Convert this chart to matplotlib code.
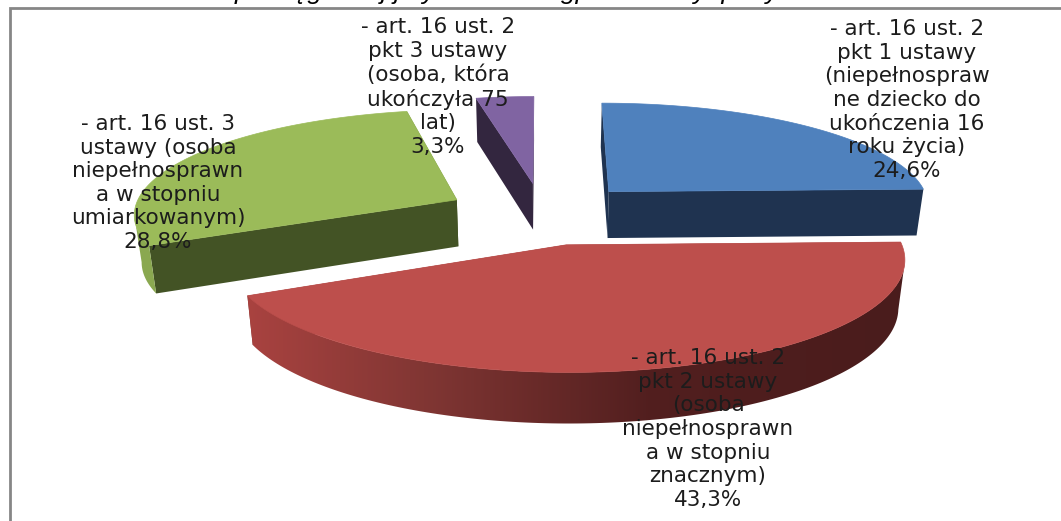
import numpy as np
import matplotlib
matplotlib.use("Agg")
import matplotlib.pyplot as plt
from matplotlib.patches import Polygon

labels = [
    "- art. 16 ust. 2\npkt 1 ustawy\n(niepełnospraw\nne dziecko do\nukończenia 16\nroku życia)",
    "- art. 16 ust. 2\npkt 2 ustawy\n(osoba\nniepełnosprawn\na w stopniu\nznacznym)",
    "- art. 16 ust. 3\nustawy (osoba\nniepełnosprawn\na w stopniu\numiarkowanym)",
    "- art. 16 ust. 2\npkt 3 ustawy\n(osoba, która\nukończyła 75\nlat)",
]
values = [24.6, 43.3, 28.8, 3.3]
top_colors = ["#4f81bd", "#bd4f4c", "#9bbb59", "#8064a2"]
side_colors = ["#1f3350", "#7f3533", "#435325", "#33263f"]
arc_colors = ["#1f3350", None, "#8aa850", "#33263f"]
label_pos = [(907, 100), (708, 429), (158, 183), (438, 87)]
draw_order = [3, 2, 0, 1]

# only the descenders of this title survive the crop in the reference
title_text = "p      ęg        j j   y                 gp              y  p    y"

# pie projection, fitted by eye
cx, cy = 542.6, 213.4
rx, ry = 324, 104
persp = 0.12
explode = 0.3
depth = 47


def project(x, y, z=0):
    w = 1 / (1 - persp * y)
    sx = cx + rx * x * w * (1 - 0.018 * z)
    sy = cy + ry * y * w + depth * np.sqrt(w) * z
    return sx, sy


def red_gradient(ax, verts):
    # left to right shading of the red side
    x = np.linspace(240, 910, 300)
    rgb = np.stack([np.interp(x, [250, 430, 650, 900], [0.66, 0.50, 0.32, 0.29]),
                    np.interp(x, [250, 430, 650, 900], [0.26, 0.21, 0.12, 0.11]),
                    np.interp(x, [250, 430, 650, 900], [0.25, 0.20, 0.12, 0.11])], axis=-1)
    im = ax.imshow(rgb[np.newaxis, :, :], extent=(240, 910, 430, 240), aspect="auto", zorder=1)
    im.set_clip_path(Polygon(verts, closed=True, transform=ax.transData))


def main():
    fig = plt.figure(figsize=(10.61, 5.21), dpi=100)
    ax = fig.add_axes([0, 0, 1, 1])
    ax.axis("off")

    ax.plot([10, 10, 1061], [521, 7.5, 7.5], color="#868686", lw=2, solid_joinstyle="miter")
    ax.text(235, -0.5, title_text, fontsize=19, style="italic", family="Liberation Sans",
            va="baseline", ha="left", color="black")

    edges = np.concatenate([[0], np.cumsum(values)]) / sum(values) * 2 * np.pi

    for i in draw_order:
        a0, a1 = edges[i], edges[i + 1]
        mid = (a0 + a1) / 2
        ox, oy = explode * np.sin(mid), -explode * np.cos(mid)
        t = np.linspace(a0, a1, 160)
        xs = ox + np.sin(t)
        ys = oy - np.cos(t)

        tx, ty = project(xs, ys)
        bx, by = project(xs, ys, 1)

        # cut faces
        ax_t, ay_t = project(ox, oy)
        ax_b, ay_b = project(ox, oy, 1)
        for k in (0, -1):
            ax.fill([ax_t, tx[k], bx[k], ax_b], [ay_t, ty[k], by[k], ay_b], color=side_colors[i], lw=0, zorder=1)

        # outer side, only the part of the arc that faces the viewer
        front = np.gradient(tx) < 0
        if front.sum() > 1:
            side_x = np.r_[tx[front], bx[front][::-1]]
            side_y = np.r_[ty[front], by[front][::-1]]
            if arc_colors[i] is None:
                red_gradient(ax, np.column_stack([side_x, side_y]))
            else:
                ax.fill(side_x, side_y, color=arc_colors[i], lw=0, zorder=1)

        # top face
        ax.fill(np.r_[ax_t, tx], np.r_[ay_t, ty], color=top_colors[i], lw=0.5, zorder=2)

    for i in range(len(values)):
        txt = labels[i] + "\n" + f"{values[i]:.1f}".replace(".", ",") + "%"
        ax.text(label_pos[i][0], label_pos[i][1], txt, ha="center", va="center", fontsize=15.5,
                family="DejaVu Sans", color="#1c1c1c", linespacing=1.22, zorder=3)

    ax.set_xlim(0, 1061)
    ax.set_ylim(521, 0)
    fig.savefig("out.png", dpi=100)


if __name__ == "__main__":
    main()
